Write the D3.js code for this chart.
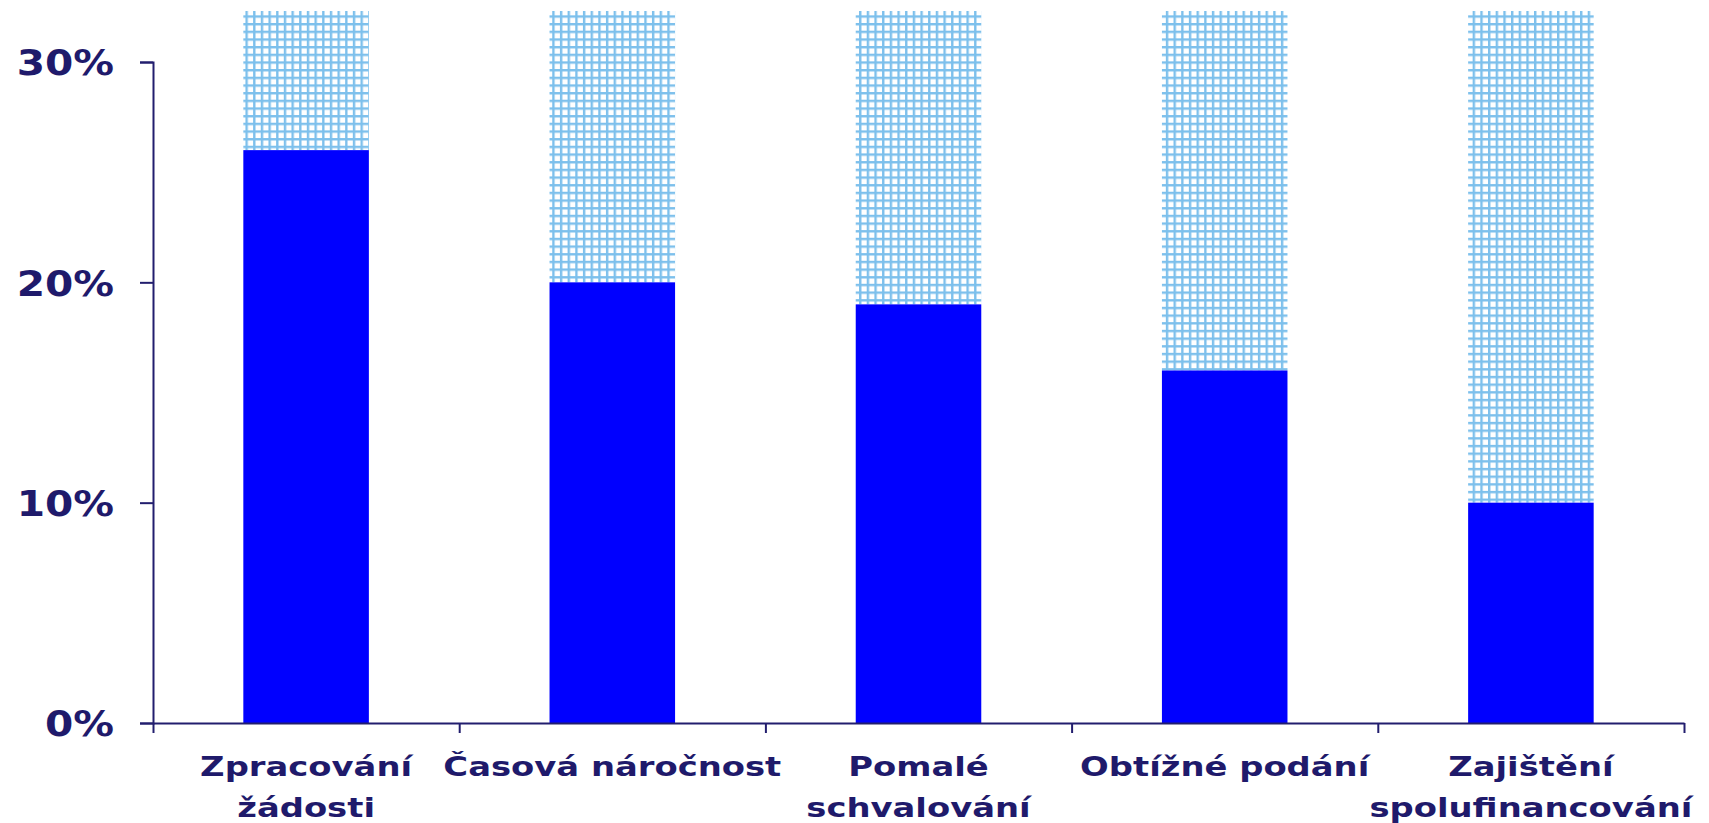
<!DOCTYPE html>
<html>
<head>
<meta charset="utf-8">
<script src="https://cdn.jsdelivr.net/npm/d3@7"></script>
<style>
  body { margin: 0; background: #fff; }
  svg { display: block; }
  .lbl { font-family: "DejaVu Sans", Verdana, sans-serif; font-weight: bold; fill: #1f1a6b; }
</style>
</head>
<body>
<div id="chart"></div>
<script>
// categories, each split into its label lines
var categories = ["Zpracování žádosti", "Časová náročnost", "Pomalé schvalování", "Obtížné podání", "Zajištění spolufinancování"];
var labelLines = [["Zpracování", "žádosti"], ["Časová náročnost"], ["Pomalé", "schvalování"], ["Obtížné podání"], ["Zajištění", "spolufinancování"]];
// share answering (solid blue) and the rest up to 100% (hatched, clipped by the plot)
var shares = [0.26, 0.20, 0.19, 0.16, 0.10];
var rest = [0.74, 0.80, 0.81, 0.84, 0.90];
var yTicks = [0, 0.1, 0.2, 0.3];

var width = 1709, height = 823;
var left = 153, right = 1684, bottom = 723, axisTop = 62, plotTop = 11;
var navy = "#221e6e";

var svg = d3.select("#chart").append("svg")
    .attr("width", width)
    .attr("height", height);

// hatch pattern for the upper part of the bars
var defs = svg.append("defs");
var p = defs.append("pattern")
    .attr("id", "grid")
    .attr("patternUnits", "userSpaceOnUse")
    .attr("width", 7.67)
    .attr("height", 7.67);
p.append("rect").attr("width", 7.67).attr("height", 7.67).attr("fill", "#fff");
p.append("rect").attr("x", 0).attr("y", 0).attr("width", 2.4).attr("height", 7.67).attr("fill", "#7dc0ec");
p.append("rect").attr("x", 0).attr("y", 0).attr("width", 7.67).attr("height", 2.4).attr("fill", "#7dc0ec");

defs.append("clipPath").attr("id", "plotclip")
  .append("rect")
    .attr("x", left).attr("y", plotTop)
    .attr("width", right - left).attr("height", bottom - plotTop);

var x = d3.scaleBand().domain(categories).range([left, right]);
var xEdge = d3.scaleLinear().domain([0, categories.length]).range([left, right]);
var y = d3.scaleLinear().domain([0, 0.3]).range([bottom, axisTop]);

var barW = x.bandwidth() * 0.41;

var bars = svg.append("g").attr("clip-path", "url(#plotclip)");

// hatched remainder
bars.selectAll("rect.rest")
    .data(categories)
  .enter().append("rect")
    .attr("class", "rest")
    .attr("x", function(d) { return x(d) + (x.bandwidth() - barW) / 2; })
    .attr("width", barW)
    .attr("y", function(d, i) { return y(shares[i] + rest[i]); })
    .attr("height", function(d, i) { return y(shares[i]) - y(shares[i] + rest[i]); })
    .attr("fill", "url(#grid)");

// solid blue share
bars.selectAll("rect.share")
    .data(categories)
  .enter().append("rect")
    .attr("class", "share")
    .attr("x", function(d) { return x(d) + (x.bandwidth() - barW) / 2; })
    .attr("width", barW)
    .attr("y", function(d, i) { return y(shares[i]); })
    .attr("height", function(d, i) { return y(0) - y(shares[i]); })
    .attr("fill", "#0000ff");

// stretch text horizontally like the original
function widen(sel, k) {
  sel.each(function() {
    var w = this.getComputedTextLength();
    d3.select(this).attr("textLength", w * k).attr("lengthAdjust", "spacingAndGlyphs");
  });
}

// y axis
var yAxis = svg.append("g")
    .attr("transform", "translate(" + left + ",0)")
    .call(d3.axisLeft(y).tickValues(yTicks).tickFormat(d3.format(".0%")).tickSize(13).tickPadding(26));
yAxis.select(".domain").attr("stroke", navy).attr("stroke-width", 2);
yAxis.selectAll(".tick line").attr("stroke", navy).attr("stroke-width", 2);
yAxis.selectAll(".tick text")
    .attr("class", "lbl")
    .attr("font-size", null)
    .style("font-size", "36px")
    .attr("font-family", null)
    .attr("dy", "0.36em");
widen(yAxis.selectAll(".tick text"), 1.13);

// x axis, ticks on category boundaries
var xAxis = svg.append("g")
    .attr("transform", "translate(0," + bottom + ")")
    .call(d3.axisBottom(xEdge).tickValues(d3.range(categories.length + 1)).tickFormat("").tickSizeInner(10).tickSizeOuter(0));
xAxis.select(".domain").attr("stroke", navy).attr("stroke-width", 2);
xAxis.selectAll(".tick line").attr("stroke", navy).attr("stroke-width", 2);

// category labels
var labels = svg.append("g").selectAll("text")
    .data(categories)
  .enter().append("text")
    .attr("class", "lbl")
    .style("font-size", "26px")
    .attr("text-anchor", "middle");

labels.selectAll("tspan")
    .data(function(d, i) { return labelLines[i].map(function(t) { return {t: t, c: d}; }); })
  .enter().append("tspan")
    .attr("x", function(d) { return x(d.c) + x.bandwidth() / 2; })
    .attr("y", function(d, j) { return 776 + j * 41; })
    .text(function(d) { return d.t; });

widen(labels.selectAll("tspan"), 1.3);
</script>
</body>
</html>
